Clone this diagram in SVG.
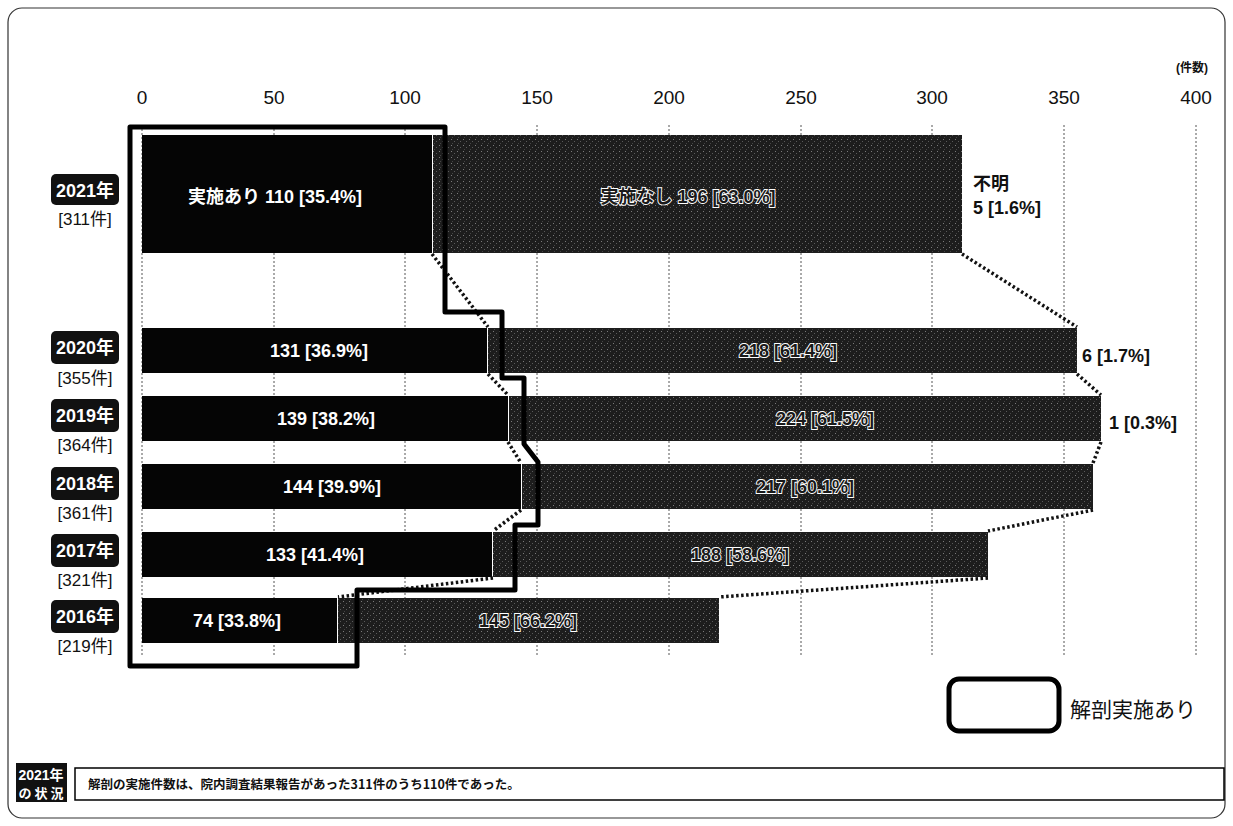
<svg xmlns="http://www.w3.org/2000/svg" width="1233" height="826" viewBox="0 0 1233 826">
<defs>
<pattern id="st" width="6" height="6" patternUnits="userSpaceOnUse">
<rect width="6" height="6" fill="#1d1d1d"/>
<rect x="1" y="1" width="1" height="1" fill="#7a7a7a"/>
<rect x="4" y="3" width="1" height="1" fill="#5a5a5a"/>
<rect x="2" y="5" width="1" height="1" fill="#444"/>
</pattern>
<style>
.ax{font-family:"Liberation Sans","Noto Sans CJK JP",sans-serif;font-size:19px;fill:#111;text-anchor:middle}
.grid{stroke:#555;stroke-width:1;stroke-dasharray:2 2}
.yes{fill:#050505}
.no{fill:url(#st)}
.wl{font-family:"Liberation Sans","Noto Sans CJK JP",sans-serif;font-size:18px;font-weight:bold;fill:#fff;text-anchor:middle}
.ol{font-family:"Liberation Sans","Noto Sans CJK JP",sans-serif;font-size:18px;font-weight:bold;fill:#1a1a1a;stroke:#fff;stroke-width:1.8;paint-order:stroke;text-anchor:middle}
.bl{font-family:"Liberation Sans","Noto Sans CJK JP",sans-serif;font-size:18px;font-weight:bold;fill:#111}
.yr{fill:#111}
.yt{font-family:"Liberation Sans","Noto Sans CJK JP",sans-serif;font-size:18px;font-weight:bold;fill:#fff;text-anchor:middle}
.yc{font-family:"Liberation Sans","Noto Sans CJK JP",sans-serif;font-size:17px;fill:#111;text-anchor:middle}
.dot{stroke:#111;stroke-width:3.5;stroke-dasharray:2.5 2.5;fill:none}
</style>
</defs>
<rect x="0" y="0" width="1233" height="826" fill="#fff"/>
<rect x="8" y="8" width="1217" height="810" rx="14" fill="none" stroke="#333" stroke-width="1.2"/>

<g id="axis">
<text class="ax" x="142" y="104">0</text>
<text class="ax" x="274" y="104">50</text>
<text class="ax" x="405" y="104">100</text>
<text class="ax" x="537" y="104">150</text>
<text class="ax" x="669" y="104">200</text>
<text class="ax" x="801" y="104">250</text>
<text class="ax" x="932" y="104">300</text>
<text class="ax" x="1064" y="104">350</text>
<text class="ax" x="1196" y="104">400</text>
<text x="1192" y="72" style="font-family:'Liberation Sans','Noto Sans CJK JP',sans-serif;font-size:12px;font-weight:bold;fill:#111;text-anchor:middle">(件数)</text>
<line class="grid" x1="142" y1="125" x2="142" y2="655"/>
<line class="grid" x1="274" y1="125" x2="274" y2="655"/>
<line class="grid" x1="405" y1="125" x2="405" y2="655"/>
<line class="grid" x1="537" y1="125" x2="537" y2="655"/>
<line class="grid" x1="669" y1="125" x2="669" y2="655"/>
<line class="grid" x1="801" y1="125" x2="801" y2="655"/>
<line class="grid" x1="932" y1="125" x2="932" y2="655"/>
<line class="grid" x1="1064" y1="125" x2="1064" y2="655"/>
<line class="grid" x1="1196" y1="125" x2="1196" y2="655"/>
</g>

<g id="bar2021">
<rect class="yes" x="142" y="135" width="290" height="118"/>
<rect class="no" x="433" y="135" width="529" height="118"/>
<text class="wl" x="275" y="203">実施あり 110 [35.4%]</text>
<text class="ol" x="688" y="203">実施なし 196 [63.0%]</text>
<text class="bl" x="973" y="190">不明</text>
<text class="bl" x="973" y="214">5 [1.6%]</text>
<rect class="yr" x="51" y="174" width="68" height="31" rx="5"/>
<text class="yt" x="85" y="197">2021年</text>
<text class="yc" x="85" y="225">[311件]</text>
</g>

<g id="bar2020">
<rect class="yes" x="142" y="328" width="345" height="45"/>
<rect class="no" x="488" y="328" width="589" height="45"/>
<text class="wl" x="319" y="357">131 [36.9%]</text>
<text class="ol" x="788" y="357">218 [61.4%]</text>
<text class="bl" x="1082" y="362">6 [1.7%]</text>
<rect class="yr" x="51" y="331" width="68" height="33" rx="5"/>
<text class="yt" x="85" y="354">2020年</text>
<text class="yc" x="85" y="384">[355件]</text>
</g>

<g id="bar2019">
<rect class="yes" x="142" y="396" width="366" height="45"/>
<rect class="no" x="509" y="396" width="592" height="45"/>
<text class="wl" x="326" y="425">139 [38.2%]</text>
<text class="ol" x="825" y="425">224 [61.5%]</text>
<text class="bl" x="1109" y="429">1 [0.3%]</text>
<rect class="yr" x="51" y="399" width="68" height="33" rx="5"/>
<text class="yt" x="85" y="422">2019年</text>
<text class="yc" x="85" y="451">[364件]</text>
</g>

<g id="bar2018">
<rect class="yes" x="142" y="464" width="379" height="45"/>
<rect class="no" x="522" y="464" width="571" height="45"/>
<text class="wl" x="332" y="493">144 [39.9%]</text>
<text class="ol" x="805" y="493">217 [60.1%]</text>
<rect class="yr" x="51" y="467" width="68" height="33" rx="5"/>
<text class="yt" x="85" y="490">2018年</text>
<text class="yc" x="85" y="519">[361件]</text>
</g>

<g id="bar2017">
<rect class="yes" x="142" y="532" width="350" height="45"/>
<rect class="no" x="493" y="532" width="495" height="45"/>
<text class="wl" x="315" y="561">133 [41.4%]</text>
<text class="ol" x="740" y="561">188 [58.6%]</text>
<rect class="yr" x="51" y="534" width="68" height="33" rx="5"/>
<text class="yt" x="85" y="557">2017年</text>
<text class="yc" x="85" y="586">[321件]</text>
</g>

<g id="bar2016">
<rect class="yes" x="142" y="598" width="195" height="45"/>
<rect class="no" x="338" y="598" width="381" height="45"/>
<text class="wl" x="237" y="627">74 [33.8%]</text>
<text class="ol" x="528" y="627">145 [66.2%]</text>
<rect class="yr" x="51" y="600" width="68" height="33" rx="5"/>
<text class="yt" x="85" y="623">2016年</text>
<text class="yc" x="85" y="652">[219件]</text>
</g>

<g id="connectors">
<line class="dot" x1="432" y1="254" x2="488" y2="327"/>
<line class="dot" x1="488" y1="374" x2="508" y2="395"/>
<line class="dot" x1="508" y1="442" x2="521" y2="463"/>
<line class="dot" x1="521" y1="510" x2="493" y2="531"/>
<line class="dot" x1="493" y1="578" x2="338" y2="597"/>
<line class="dot" x1="962" y1="254" x2="1077" y2="327"/>
<line class="dot" x1="1077" y1="374" x2="1101" y2="395"/>
<line class="dot" x1="1101" y1="442" x2="1093" y2="463"/>
<line class="dot" x1="1093" y1="510" x2="988" y2="531"/>
<line class="dot" x1="988" y1="578" x2="719" y2="597"/>
</g>

<g id="highlight">
<path d="M130,127 L445,127 L445,312 L502,312 L502,378 L524,378 L524,444 L538,462 L538,525 L515,525 L515,590 L357,590 L357,666 L130,666 Z" fill="none" stroke="#000" stroke-width="5" stroke-linejoin="round"/>
</g>

<g id="legend">
<rect x="949" y="679" width="110" height="52" rx="10" fill="#fff" stroke="#000" stroke-width="5"/>
<text x="1070" y="717" style="font-family:'Noto Sans CJK JP',sans-serif;font-size:21px;fill:#111">解剖実施あり</text>
</g>

<g id="summary">
<rect x="16" y="763" width="51" height="39" fill="#111"/>
<text x="41" y="780" style="font-family:'Liberation Sans','Noto Sans CJK JP',sans-serif;font-size:14px;font-weight:bold;fill:#fff;text-anchor:middle">2021年</text>
<text x="41" y="798" style="font-family:'Noto Sans CJK JP',sans-serif;font-size:13px;font-weight:bold;fill:#fff;text-anchor:middle">の 状 況</text>
<rect x="75" y="768" width="1149" height="32" fill="#fff" stroke="#000" stroke-width="1.5"/>
<text x="88" y="789" style="font-family:'Noto Sans CJK JP',sans-serif;font-size:12.5px;font-weight:bold;fill:#111">解剖の実施件数は、院内調査結果報告があった311件のうち110件であった。</text>
</g>
</svg>
